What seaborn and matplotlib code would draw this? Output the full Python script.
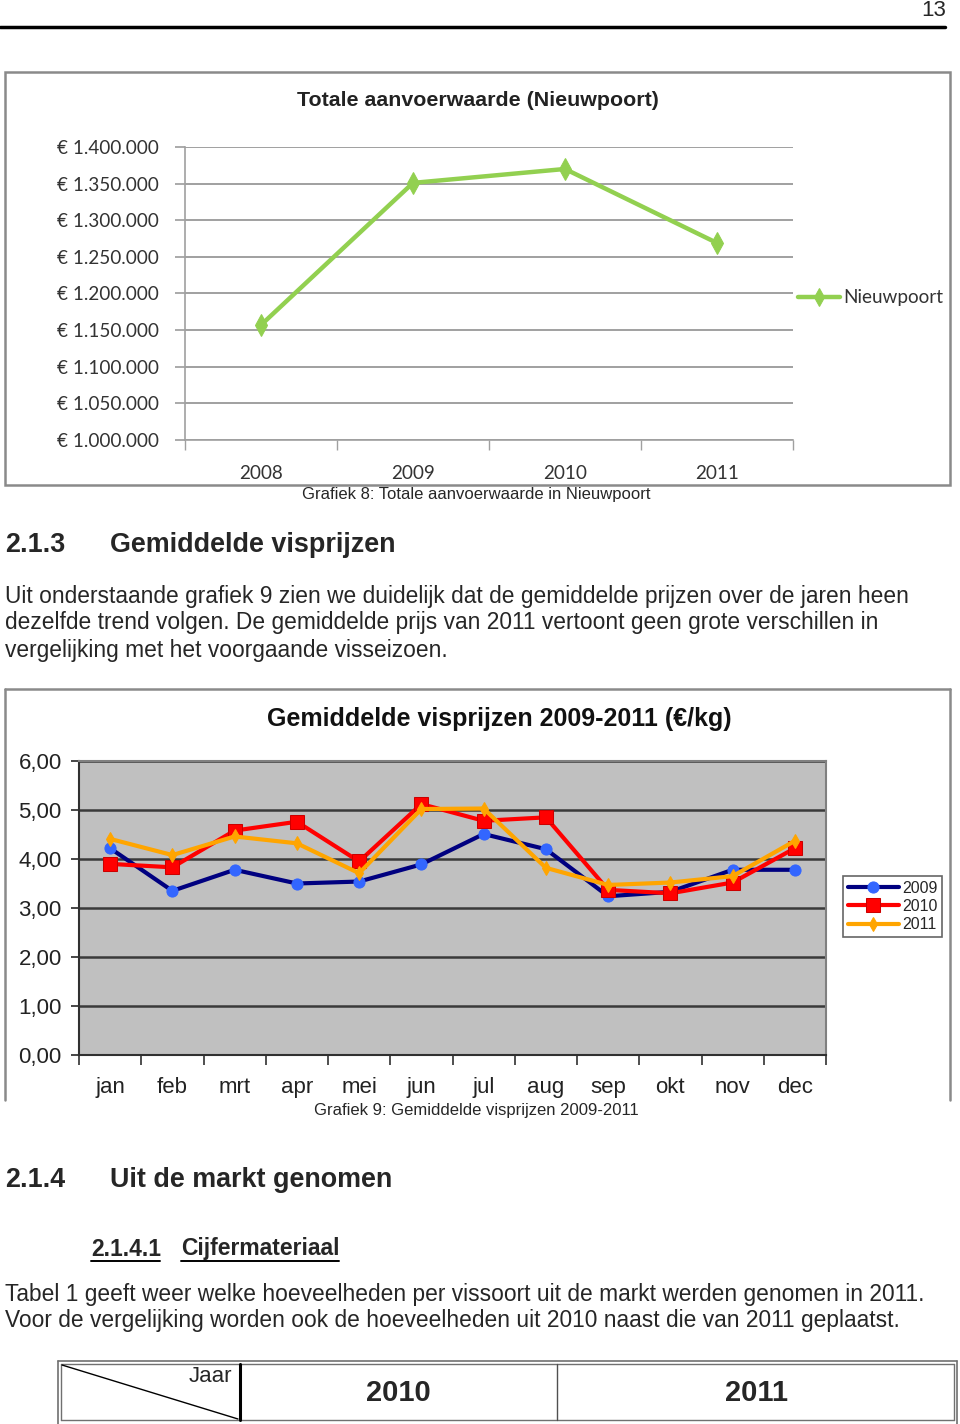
import numpy as np
import pandas as pd
import matplotlib
matplotlib.use("Agg")
import matplotlib.pyplot as plt
from matplotlib.lines import Line2D
from matplotlib.patches import Rectangle
from matplotlib.ticker import FuncFormatter, FixedLocator
import seaborn as sns

# --- data ---
years = ["2008", "2009", "2010", "2011"]
aanvoer_nieuwpoort = [1157000, 1351000, 1370000, 1269000]

months = ["jan", "feb", "mrt", "apr", "mei", "jun", "jul", "aug", "sep", "okt", "nov", "dec"]
prijs_2009 = [4.22, 3.35, 3.78, 3.50, 3.54, 3.89, 4.51, 4.20, 3.24, 3.33, 3.78, 3.78]
prijs_2010 = [3.90, 3.83, 4.58, 4.76, 3.95, 5.12, 4.78, 4.85, 3.37, 3.30, 3.52, 4.22]
prijs_2011 = [4.41, 4.08, 4.46, 4.32, 3.71, 5.02, 5.03, 3.82, 3.47, 3.52, 3.65, 4.37]

W, H = 960, 1424
sns.set_theme(style="white")
plt.rcParams["font.family"] = ["Liberation Sans", "DejaVu Sans"]

fig = plt.figure(figsize=(W / 100, H / 100), dpi=100)
fig.patch.set_facecolor("white")


def fx(x):
    return x / W


def fy(y):
    return 1 - y / H


def add_ax(l, t, r, b):
    return fig.add_axes([l / W, 1 - b / H, (r - l) / W, (b - t) / H])


def hline(x0, x1, y, **kw):
    fig.add_artist(Line2D([fx(x0), fx(x1)], [fy(y), fy(y)], transform=fig.transFigure, **kw))


def vline(x, y0, y1, **kw):
    fig.add_artist(Line2D([fx(x), fx(x)], [fy(y0), fy(y1)], transform=fig.transFigure, **kw))


def txt(x, y, s, **kw):
    kw.setdefault("va", "center")
    return fig.text(fx(x), fy(y), s, **kw)


BODY = 16.4
HEAD = 19.4

# --- page header ---
txt(946, 10, "13", ha="right", fontsize=16)
hline(0, 945, 27, color="black", lw=2.5)

# --- chart 1 frame ---
fig.add_artist(Rectangle((fx(5), fy(485)), fx(945), (485 - 72) / H, transform=fig.transFigure,
                         fill=False, edgecolor="#8a8a8a", lw=1.8))
calibri = ["Lato", "DejaVu Sans"]
txt(478, 101, "Totale aanvoerwaarde (Nieuwpoort)", ha="center", fontsize=15.4,
    fontweight="bold", color="#222222")

ax1 = add_ax(185, 147, 793, 440)
df1 = pd.DataFrame({"jaar": years, "waarde": aanvoer_nieuwpoort})
sns.lineplot(data=df1, x="jaar", y="waarde", ax=ax1, sort=False, color="#92D050",
             lw=3.2, marker="d", markersize=11, markeredgecolor="#92D050",
             markerfacecolor="#92D050", label="Nieuwpoort")
ax1.set_xlim(-0.5, len(years) - 0.5)
ax1.set_ylim(1000000, 1400000)
ax1.set_yticks(np.arange(1000000, 1400001, 50000))
ax1.yaxis.set_major_formatter(FuncFormatter(lambda v, p: "€ " + f"{v:,.0f}".replace(",", ".")))
ax1.set_xticks(range(len(years)))
ax1.set_xticklabels(years)
ax1.xaxis.set_minor_locator(FixedLocator(np.arange(-0.5, len(years), 1.0)))
ax1.grid(axis="y", color="#a0a0a0", lw=1.4)
ax1.grid(axis="x", visible=False)
for s in ["top", "right"]:
    ax1.spines[s].set_visible(False)
for s in ["left", "bottom"]:
    ax1.spines[s].set_color("#a0a0a0")
    ax1.spines[s].set_linewidth(1.2)
ax1.tick_params(axis="y", which="major", left=True, length=7, color="#a0a0a0", pad=12,
                labelsize=13.6, labelcolor="#333333")
ax1.tick_params(axis="x", which="major", length=0, pad=18, labelsize=13.6, labelcolor="#333333")
ax1.tick_params(axis="x", which="minor", bottom=True, length=7, color="#a0a0a0")
for lab in ax1.get_xticklabels() + ax1.get_yticklabels():
    lab.set_family(calibri)
ax1.set_xlabel("")
ax1.set_ylabel("")
ax1.set_facecolor("white")
leg1 = ax1.legend(loc="center left", bbox_to_anchor=(fx(781), fy(298)), bbox_transform=fig.transFigure,
                  frameon=False, fontsize=13.6, handlelength=2.2, handletextpad=0.2, markerscale=0.8)
for t in leg1.get_texts():
    t.set_family(calibri)
    t.set_color("#333333")

txt(476, 495, "Grafiek 8: Totale aanvoerwaarde in Nieuwpoort", ha="center", fontsize=12)

# --- section 2.1.3 ---
txt(5, 545, "2.1.3", fontsize=HEAD, fontweight="bold")
txt(110, 545, "Gemiddelde visprijzen", fontsize=HEAD, fontweight="bold")
para1 = ["Uit onderstaande grafiek 9 zien we duidelijk dat de gemiddelde prijzen over de jaren heen",
         "dezelfde trend volgen. De gemiddelde prijs van 2011 vertoont geen grote verschillen in",
         "vergelijking met het voorgaande visseizoen."]
for i, line in enumerate(para1):
    txt(5, 596 + 27 * i, line, fontsize=BODY)

# --- chart 2 frame ---
hline(5, 950, 689, color="#8a8a8a", lw=1.8)
vline(5, 689, 1100, color="#8a8a8a", lw=1.8)
vline(950, 689, 1100, color="#8a8a8a", lw=1.8)
txt(499, 719, "Gemiddelde visprijzen 2009-2011 (€/kg)", ha="center", fontsize=18,
    fontweight="bold", color="#111111")

ax2 = add_ax(79, 761, 826, 1055)
df2 = pd.DataFrame({"maand": months, "2009": prijs_2009, "2010": prijs_2010, "2011": prijs_2011})
sns.lineplot(data=df2, x="maand", y="2009", ax=ax2, sort=False, color="#000080", lw=3,
             marker="o", markersize=8, markerfacecolor="#3366FF", markeredgecolor="#3366FF", label="2009")
sns.lineplot(data=df2, x="maand", y="2010", ax=ax2, sort=False, color="#FF0000", lw=3,
             marker="s", markersize=9.5, markerfacecolor="#FF0000", markeredgecolor="#CC0000", label="2010")
sns.lineplot(data=df2, x="maand", y="2011", ax=ax2, sort=False, color="#FFA500", lw=3,
             marker="d", markersize=7, markerfacecolor="#FFA500", markeredgecolor="#FFA500", label="2011")
ax2.set_facecolor("#C0C0C0")
ax2.set_xlim(-0.5, len(months) - 0.5)
ax2.set_ylim(0, 6)
ax2.set_yticks(np.arange(0, 6.01, 1))
ax2.yaxis.set_major_formatter(FuncFormatter(lambda v, p: f"{v:.2f}".replace(".", ",")))
ax2.set_xticks(range(len(months)))
ax2.set_xticklabels(months)
ax2.xaxis.set_minor_locator(FixedLocator(np.arange(-0.5, len(months), 1.0)))
ax2.grid(axis="y", color="#3a3a3a", lw=1.8)
ax2.grid(axis="x", visible=False)
ax2.set_axisbelow(True)
ax2.spines["top"].set_color("#808080")
ax2.spines["right"].set_color("#808080")
ax2.spines["left"].set_color("#303030")
ax2.spines["bottom"].set_color("#303030")
for s in ax2.spines.values():
    s.set_linewidth(1.5)
ax2.tick_params(axis="y", which="major", left=True, length=6, color="#303030", pad=6.5,
                labelsize=16, labelcolor="#222222")
ax2.tick_params(axis="x", which="major", length=0, pad=16, labelsize=16, labelcolor="#222222")
ax2.tick_params(axis="x", which="minor", bottom=True, length=7, color="#303030", width=1.2)
ax2.set_xlabel("")
ax2.set_ylabel("")
leg2 = ax2.legend(loc="upper left", bbox_to_anchor=(fx(843), fy(876)), bbox_transform=fig.transFigure,
                  frameon=True, fancybox=False, fontsize=11.5, handlelength=3.2, handletextpad=0.2,
                  labelspacing=0.2, borderpad=0.3, borderaxespad=0)
leg2.get_frame().set_edgecolor("#404040")
leg2.get_frame().set_linewidth(1.2)

txt(476, 1110, "Grafiek 9: Gemiddelde visprijzen 2009-2011", ha="center", fontsize=12)

# --- section 2.1.4 ---
txt(5, 1180, "2.1.4", fontsize=HEAD, fontweight="bold")
txt(110, 1180, "Uit de markt genomen", fontsize=HEAD, fontweight="bold")
txt(91, 1249, "2.1.4.1", fontsize=16.5, fontweight="bold")
txt(181, 1249, "Cijfermateriaal", fontsize=16.5, fontweight="bold")
hline(91, 160, 1261, color="black", lw=1.4)
hline(181, 339, 1261, color="black", lw=1.4)
para2 = ["Tabel 1 geeft weer welke hoeveelheden per vissoort uit de markt werden genomen in 2011.",
         "Voor de vergelijking worden ook de hoeveelheden uit 2010 naast die van 2011 geplaatst."]
for i, line in enumerate(para2):
    txt(5, 1295 + 26 * i, line, fontsize=BODY)

# --- table head ---
hline(58, 957, 1361, color="#707070", lw=1.2)
hline(61, 954, 1364, color="#707070", lw=1.0)
hline(61, 954, 1420, color="#707070", lw=1.0)
vline(58, 1361, 1424, color="#707070", lw=1.2)
vline(61, 1364, 1420, color="#707070", lw=1.0)
vline(957, 1361, 1424, color="#707070", lw=1.2)
vline(954, 1364, 1420, color="#707070", lw=1.0)
vline(240, 1364, 1420, color="black", lw=2.2)
vline(557, 1364, 1420, color="#505050", lw=1.0)
fig.add_artist(Line2D([fx(62), fx(238)], [fy(1365), fy(1419)], transform=fig.transFigure,
                      color="black", lw=1.0))
txt(232, 1377, "Jaar", ha="right", fontsize=16)
txt(398, 1393, "2010", ha="center", fontsize=21, fontweight="bold")
txt(756, 1393, "2011", ha="center", fontsize=21, fontweight="bold")

fig.savefig("out.png", dpi=100, facecolor="white")
